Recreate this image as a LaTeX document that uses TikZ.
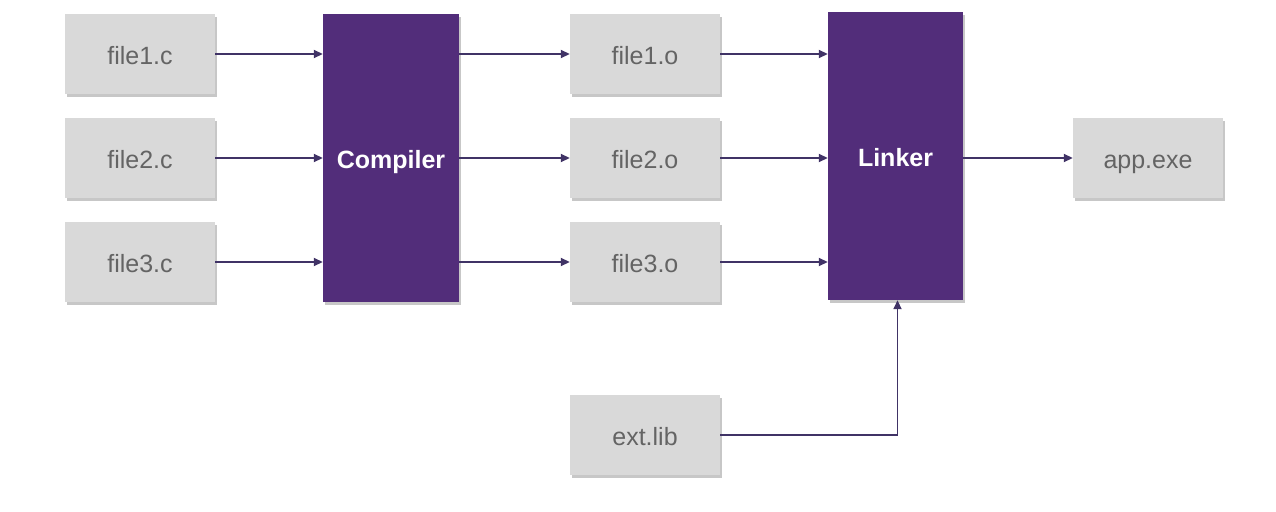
\documentclass[tikz,border=0pt]{standalone}
\usepackage{fontspec}
\setmainfont{Liberation Sans}
\usetikzlibrary{arrows.meta,shadows}
\definecolor{boxgray}{HTML}{D9D9D9}
\definecolor{txtgray}{HTML}{646464}
\definecolor{purp}{HTML}{522D7A}
\definecolor{arr}{HTML}{403366}
\begin{document}
\begin{tikzpicture}[x=1pt,y=-1pt,
  filebox/.style={draw=none,fill=boxgray,minimum width=150pt,minimum height=80pt,
    text=txtgray,font=\fontsize{25}{28}\selectfont,inner sep=0pt,
    text height=20pt,text depth=0pt,
    drop shadow={shadow xshift=2pt,shadow yshift=-3pt,fill=black,opacity=0.22}},
  toolbox/.style={draw=none,fill=purp,minimum width=136pt,minimum height=288pt,
    text=white,font=\fontsize{25}{28}\selectfont\bfseries,inner sep=0pt,
    text height=20pt,text depth=0pt,
    drop shadow={shadow xshift=2pt,shadow yshift=-3pt,fill=black,opacity=0.22}},
  conn/.style={draw=arr,line width=1.7pt,-{Triangle[length=9pt,width=8pt]}}]
\useasboundingbox (0,0) rectangle (1276,511);
\node[filebox] (c1) at (140,54) {file1.c};
\node[filebox] (c2) at (140,158) {file2.c};
\node[filebox] (c3) at (140,262) {file3.c};
\node[toolbox] (comp) at (391,158) {Compiler};
\node[filebox] (o1) at (645,54) {file1.o};
\node[filebox] (o2) at (645,158) {file2.o};
\node[filebox] (o3) at (645,262) {file3.o};
\node[toolbox,minimum width=135pt] (link) at (895.5,156) {Linker};
\node[filebox] (app) at (1148,158) {app.exe};
\node[filebox] (lib) at (645,435) {ext.lib};
\draw[conn] (c1.east) -- (c1.east -| comp.west);
\draw[conn] (c2.east) -- (c2.east -| comp.west);
\draw[conn] (c3.east) -- (c3.east -| comp.west);
\draw[conn] (o1.west -| comp.east) -- (o1.west);
\draw[conn] (o2.west -| comp.east) -- (o2.west);
\draw[conn] (o3.west -| comp.east) -- (o3.west);
\draw[conn] (o1.east) -- (o1.east -| link.west);
\draw[conn] (o2.east) -- (o2.east -| link.west);
\draw[conn] (o3.east) -- (o3.east -| link.west);
\draw[conn] (app.west -| link.east) -- (app.west);
\draw[conn] (lib.east) -| ([xshift=2pt]link.south);
\end{tikzpicture}
\end{document}
